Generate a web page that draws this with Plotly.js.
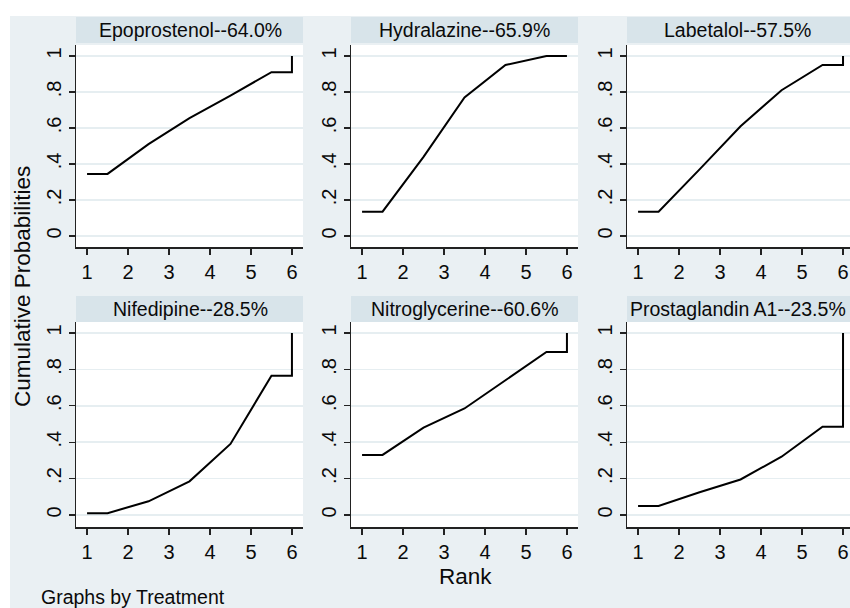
<!DOCTYPE html>
<html>
<head>
<meta charset="utf-8">
<script src="https://cdn.plot.ly/plotly-3.0.1.min.js"></script>
<style>html,body{margin:0;padding:0;background:#fff;}#chart{width:850px;height:608px;}</style>
</head>
<body>
<div id="chart"></div>
<script>
// ---- data ----
const treatments = ["Epoprostenol", "Hydralazine", "Labetalol", "Nifedipine", "Nitroglycerine", "Prostaglandin A1"];
const sucra = ["64.0%", "65.9%", "57.5%", "28.5%", "60.6%", "23.5%"];
const rankPositions = [1, 1.5, 2.5, 3.5, 4.5, 5.5, 6, 6];
const epoprostenol   = [0.345, 0.345, 0.51, 0.655, 0.78, 0.91, 0.91, 1.0];
const hydralazine    = [0.135, 0.135, 0.44, 0.77, 0.95, 1.0, 1.0, 1.0];
const labetalol      = [0.135, 0.135, 0.37, 0.61, 0.81, 0.95, 0.95, 1.0];
const nifedipine     = [0.01, 0.01, 0.075, 0.185, 0.39, 0.765, 0.765, 1.0];
const nitroglycerine = [0.33, 0.33, 0.48, 0.585, 0.74, 0.895, 0.895, 1.0];
const prostaglandin  = [0.05, 0.05, 0.125, 0.195, 0.32, 0.485, 0.485, 1.0];
const xTicks = [1, 2, 3, 4, 5, 6];
const yTicks = [0, 0.2, 0.4, 0.6, 0.8, 1];
const yTickText = ["0", ".2", ".4", ".6", ".8", "1"];
const series = [epoprostenol, hydralazine, labetalol, nifedipine, nitroglycerine, prostaglandin];

// ---- layout geometry (pixels) ----
const W = 850, H = 608;
const colX = [[76, 303], [351, 578], [627, 850]];
const titleCX = [190, 464.5, 737.5];
const rowY = [[45, 247], [322, 527]];
const barY = [[17, 43], [296, 322]];
const xRanges = [[0.73, 6.27], [0.73, 6.27], [0.73, 6.17]];
const yRanges = [[-0.061, 1.061], [-0.066, 1.06]];
const fx = p => p / W;
const fy = p => 1 - p / H;

const BG = "#EAF0F3", BAR = "#D8E4EA", GRID = "#E6EEF1";
const FONT = "Liberation Sans, Arial, sans-serif";
const TXT = "#0A0A0A";

const traces = [];
const layout = {
  width: W, height: H,
  margin: {l: 0, r: 0, t: 0, b: 0, pad: 0},
  paper_bgcolor: BG, plot_bgcolor: "#FFFFFF",
  showlegend: false,
  font: {family: FONT, color: TXT},
  shapes: [
    {type: "rect", xref: "paper", yref: "paper", x0: 0, x1: 1, y0: fy(16), y1: 1, fillcolor: "#FFFFFF", line: {width: 0}, layer: "below"},
    {type: "rect", xref: "paper", yref: "paper", x0: 0, x1: fx(10), y0: 0, y1: 1, fillcolor: "#FFFFFF", line: {width: 0}, layer: "below"}
  ],
  annotations: []
};

series.forEach((ys, i) => {
  const r = Math.floor(i / 3), c = i % 3;
  const n = i + 1;
  const xa = n === 1 ? "x" : "x" + n, ya = n === 1 ? "y" : "y" + n;
  traces.push({
    x: rankPositions, y: ys, type: "scatter", mode: "lines",
    xaxis: xa, yaxis: ya,
    line: {color: "#000", width: 2}, hoverinfo: "x+y"
  });
  layout["xaxis" + (n === 1 ? "" : n)] = {
    domain: [fx(colX[c][0]), fx(colX[c][1])], anchor: ya,
    range: xRanges[c], tickvals: xTicks, ticks: "outside", ticklen: 6, tickwidth: 1.3,
    tickcolor: "#222", showline: true, linecolor: "#222", linewidth: 1.5,
    showgrid: false, zeroline: false, tickfont: {size: 20, family: FONT, color: TXT}
  };
  layout["yaxis" + (n === 1 ? "" : n)] = {
    domain: [fy(rowY[r][1]), fy(rowY[r][0])], anchor: xa,
    range: yRanges[r], tickvals: yTicks, ticktext: yTickText, tickangle: -90,
    ticks: "outside", ticklen: 6, tickwidth: 1.3, tickcolor: "#222",
    showline: true, linecolor: "#222", linewidth: 1.5,
    showgrid: true, gridcolor: GRID, gridwidth: 1.5, zeroline: false,
    tickfont: {size: 20, family: FONT, color: TXT}
  };
  layout.shapes.push({
    type: "rect", xref: "paper", yref: "paper",
    x0: fx(colX[c][0]), x1: fx(colX[c][1]), y0: fy(barY[r][1]), y1: fy(barY[r][0]),
    fillcolor: BAR, line: {width: 0}, layer: "below"
  });
  layout.annotations.push({
    xref: "paper", yref: "paper",
    x: fx(titleCX[c]),
    y: fy((barY[r][0] + barY[r][1]) / 2),
    text: treatments[i] + "--" + sucra[i], showarrow: false,
    xanchor: "center", yanchor: "middle",
    font: {size: 19.5, family: FONT, color: TXT}
  });
});

layout.annotations.push(
  {xref: "paper", yref: "paper", x: fx(22), y: fy(287), text: "Cumulative Probabilities",
   textangle: -90, showarrow: false, xanchor: "center", yanchor: "middle",
   font: {size: 22.5, family: FONT, color: TXT}},
  {xref: "paper", yref: "paper", x: fx(465), y: fy(576), text: "Rank",
   showarrow: false, xanchor: "center", yanchor: "middle",
   font: {size: 22.5, family: FONT, color: TXT}},
  {xref: "paper", yref: "paper", x: fx(39), y: fy(597), text: "Graphs by Treatment",
   showarrow: false, xanchor: "left", yanchor: "middle",
   font: {size: 19.5, family: FONT, color: TXT}}
);

Plotly.newPlot("chart", traces, layout, {displayModeBar: false, staticPlot: true});
</script>
</body>
</html>
